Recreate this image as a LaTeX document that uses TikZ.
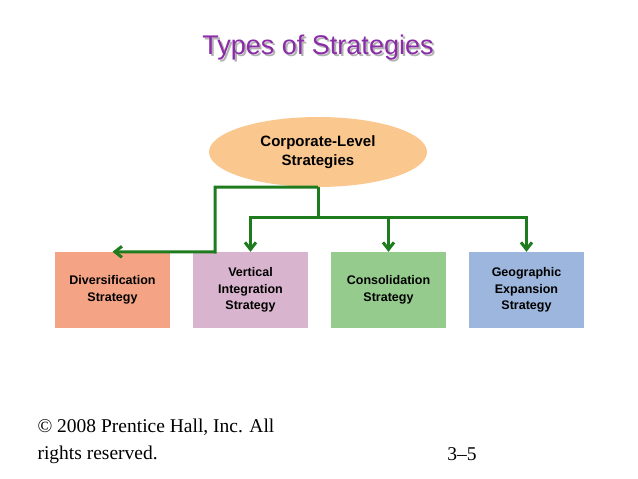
\documentclass[tikz,border=0pt]{standalone}
\usepackage{fontspec}
\setmainfont{Liberation Sans}
\newfontfamily\serifx{Liberation Serif}
\usetikzlibrary{arrows.meta,shapes.geometric}
\definecolor{divcol}{HTML}{F4A384}
\definecolor{vertcol}{HTML}{D9B4CE}
\definecolor{conscol}{HTML}{95CC8D}
\definecolor{geocol}{HTML}{9DB6DD}
\definecolor{corpcol}{HTML}{FAC78F}
\definecolor{linecol}{HTML}{1E7B1E}
\definecolor{titlecol}{HTML}{8A2BA8}
\tikzset{
  stratbox/.style={fill=#1, minimum width=115pt, minimum height=76pt, align=center,
    font=\fontsize{12.5}{16.5}\selectfont\bfseries},
  link/.style={draw=linecol, line width=3pt, -{Straight Barb[length=7pt,width=11pt]}}
}
\begin{document}
\begin{tikzpicture}[x=1pt,y=-1pt]
	            \useasboundingbox (0,0) rectangle (638,479);
	            \node[font=\fontsize{27}{30}\selectfont, text=gray!60] at (320,50) {Types of Strategies};
	            \node[font=\fontsize{27}{30}\selectfont, text=titlecol] (title) at (318,48) {Types of Strategies};
	            \node[ellipse, fill=corpcol, minimum width=218pt, minimum height=70pt, align=center,
		            font=\fontsize{15}{19}\selectfont\bfseries] (corp) at (318,152) {Corporate-Level\\Strategies};
	            \node[stratbox=divcol] (div) at (112.5,290) {Diversification\\Strategy};
	            \node[stratbox=vertcol] (vert) at (250.5,290) {Vertical\\Integration\\Strategy};
	            \node[stratbox=conscol] (cons) at (388.5,290) {Consolidation\\Strategy};
	            \node[stratbox=geocol] (geo) at (526.5,290) {Geographic\\Expansion\\Strategy};
	            \coordinate (hub) at (318,217);
	            \draw[link, -] (corp.south) -- (hub);
	            \draw[link] (corp.south) -| (215,252) -- (div.north);
	            \draw[link] (hub) -| (vert.north);
	            \draw[link] (hub) -| (cons.north);
	            \draw[link] (hub) -| (geo.north);
	            \node[anchor=north west, align=left, font=\serifx\fontsize{19.5}{27}\selectfont] (copy) at (34,415) {\textcopyright{} 2008 Prentice Hall, Inc. All\\rights reserved.};
	            \node[font=\serifx\fontsize{19.5}{22}\selectfont] (page) at (462,454) {3–5};
            \end{tikzpicture}
\end{document}
